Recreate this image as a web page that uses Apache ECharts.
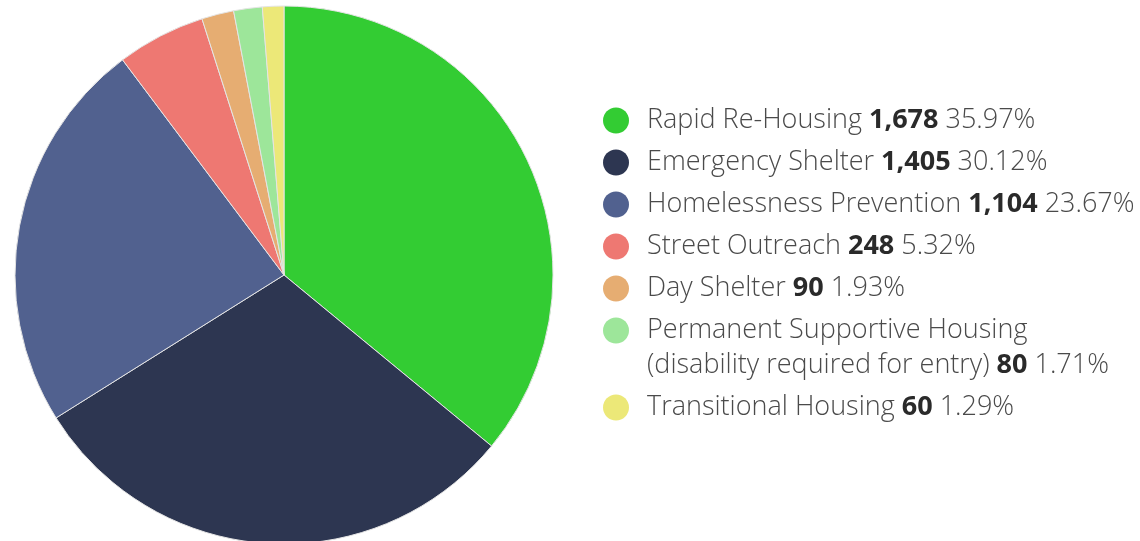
<!DOCTYPE html>
<html>
<head>
<meta charset="utf-8">
<script src="https://cdn.jsdelivr.net/npm/echarts@6/dist/echarts.min.js"></script>
<style>
html,body{margin:0;padding:0;background:#fff;}
#chart{width:1140px;height:541px;}
</style>
</head>
<body>
<div id="chart"></div>
<script>
const categories = [
  'Rapid Re-Housing',
  'Emergency Shelter',
  'Homelessness Prevention',
  'Street Outreach',
  'Day Shelter',
  'Permanent Supportive Housing\n(disability required for entry)',
  'Transitional Housing'
];
const values = [1678, 1405, 1104, 248, 90, 80, 60];
const colors = ['#33cc33', '#2d3651', '#51618f', '#ee7872', '#e6ad72', '#9de69a', '#ece878'];

const total = values.reduce((a, b) => a + b, 0);
const FONT = '"Open Sans"';

const rich = {
  t: { fontFamily: FONT, fontSize: 27, fontWeight: 300, color: '#4a4a4a', lineHeight: 35 },
  b: { fontFamily: FONT, fontSize: 27, fontWeight: 'bold', color: '#2a2a2a', lineHeight: 35 },
  sp: { width: 18, lineHeight: 35 },
  pad: { width: 44, lineHeight: 35 }
};
colors.forEach((c, i) => {
  rich['d' + i] = { width: 26, height: 26, borderRadius: 13, backgroundColor: c, lineHeight: 35 };
});

function legendText(name) {
  const i = categories.indexOf(name);
  const lines = name.split('\n');
  const num = values[i].toLocaleString('en-US');
  const pct = (values[i] / total * 100).toFixed(2) + '%';
  let out = '{d' + i + '|}{sp|}';
  lines.forEach((ln, k) => {
    if (k > 0) out += '\n{pad|}';
    if (k === lines.length - 1) {
      out += '{t|' + ln + ' }{b|' + num + '}{t| ' + pct + '}';
    } else {
      out += '{t|' + ln + '}';
    }
  });
  return out;
}

const chart = echarts.init(document.getElementById('chart'), null, { renderer: 'canvas' });
chart.setOption({
  animation: false,
  color: colors,
  legend: {
    orient: 'vertical',
    left: 592,
    top: 98,
    itemWidth: 0,
    itemHeight: 0,
    itemGap: 7,
    selectedMode: false,
    data: categories,
    formatter: legendText,
    textStyle: { rich: rich, fontFamily: FONT, fontSize: 27, lineHeight: 35 }
  },
  series: [{
    type: 'pie',
    center: [284, 275],
    radius: 269,
    startAngle: 90,
    clockwise: true,
    label: { show: false },
    labelLine: { show: false },
    emphasis: { disabled: true },
    itemStyle: { borderColor: '#e4e4e4', borderWidth: 1 },
    data: categories.map((c, i) => ({ name: c, value: values[i] }))
  }]
});
</script>
</body>
</html>
